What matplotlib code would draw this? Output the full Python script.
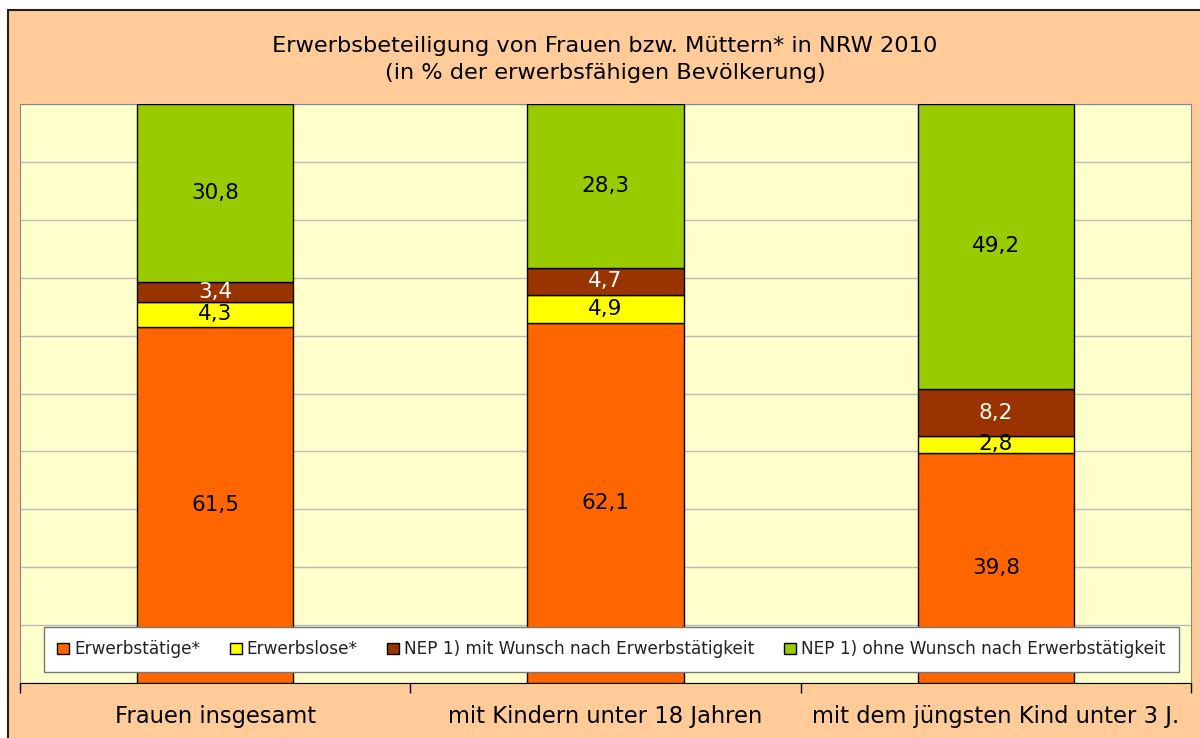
import matplotlib
matplotlib.use("Agg")
import matplotlib.pyplot as plt
import numpy as np
from matplotlib.patches import Rectangle

categories = ["Frauen insgesamt", "mit Kindern unter 18 Jahren", "mit dem jüngsten Kind unter 3 J."]
series_names = ["Erwerbstätige*", "Erwerbslose*", "NEP 1) mit Wunsch nach Erwerbstätigkeit",
                "NEP 1) ohne Wunsch nach Erwerbstätigkeit"]
erwerbstaetige = [61.5, 62.1, 39.8]
erwerbslose = [4.3, 4.9, 2.8]
nep_mit = [3.4, 4.7, 8.2]
nep_ohne = [30.8, 28.3, 49.2]
colors = ["#FF6600", "#FFFF00", "#993300", "#99CC00"]
text_colors = ["black", "black", "white", "black"]

plt.rcParams['font.family'] = ['DejaVu Sans']

fig = plt.figure(figsize=(12, 7.38), dpi=100)
fig.patch.set_facecolor("white")
# chart frame (peach background)
fig.patches.append(Rectangle((8 / 1200, -0.05), 1.1, (738 - 10) / 738 + 0.05,
                             transform=fig.transFigure, facecolor="#FFCC99",
                             edgecolor="#222222", linewidth=1.5, zorder=-10))

ax = fig.add_axes([20 / 1200, 55 / 738, 1171 / 1200, 579 / 738])
ax.set_facecolor("#FFFFCC")

x = np.arange(len(categories))
width = 0.4
bottom = np.zeros(len(categories))
series = [erwerbstaetige, erwerbslose, nep_mit, nep_ohne]
for vals, name, col, tcol in zip(series, series_names, colors, text_colors):
    vals = np.array(vals)
    bars = ax.bar(x, vals, width, bottom=bottom, color=col, edgecolor="black",
                  linewidth=1, label=name, zorder=3)
    for xi, b, v in zip(x, bottom, vals):
        ax.text(xi, b + v / 2, f"{v:.1f}".replace(".", ","), ha="center", va="center",
                fontsize=15.5, color=tcol, zorder=4)
    bottom += vals

ax.set_xlim(-0.5, 2.5)
ax.set_ylim(0, 100)
ax.set_yticks(np.arange(0, 101, 10))
ax.set_yticklabels([])
ax.tick_params(axis="y", length=0)
ax.yaxis.grid(True, color="#BBBBBB", linewidth=1, zorder=0)
ax.set_axisbelow(True)

ax.set_xticks([-0.5, 0.5, 1.5, 2.5])
ax.set_xticklabels([])
ax.tick_params(axis="x", length=7, width=1, color="black", direction="out")
for xi, cat in zip(x, categories):
    ax.text(xi, -0.058, cat, transform=ax.get_xaxis_transform(), ha="center", va="center",
            fontsize=16.3, color="black")

for s in ["top", "right", "left"]:
    ax.spines[s].set_color("#888888")
ax.spines["bottom"].set_color("black")

fig.text(605 / 1200, 1 - 46 / 738, "Erwerbsbeteiligung von Frauen bzw. Müttern* in NRW 2010",
         ha="center", va="center", fontsize=16.2)
fig.text(605 / 1200, 1 - 73 / 738, "(in % der erwerbsfähigen Bevölkerung)",
         ha="center", va="center", fontsize=16.2)

leg = ax.legend(loc="lower center", bbox_to_anchor=(0.505, 0.019), ncol=4, fontsize=12.2,
                frameon=True, fancybox=False, edgecolor="#777777", framealpha=1,
                handlelength=0.7, handleheight=0.7, handletextpad=0.3, columnspacing=1.75,
                borderpad=0.8, borderaxespad=0, labelcolor="#222222")
leg.get_frame().set_linewidth(1)
leg.set_zorder(5)

fig.savefig("out.png", dpi=100)
